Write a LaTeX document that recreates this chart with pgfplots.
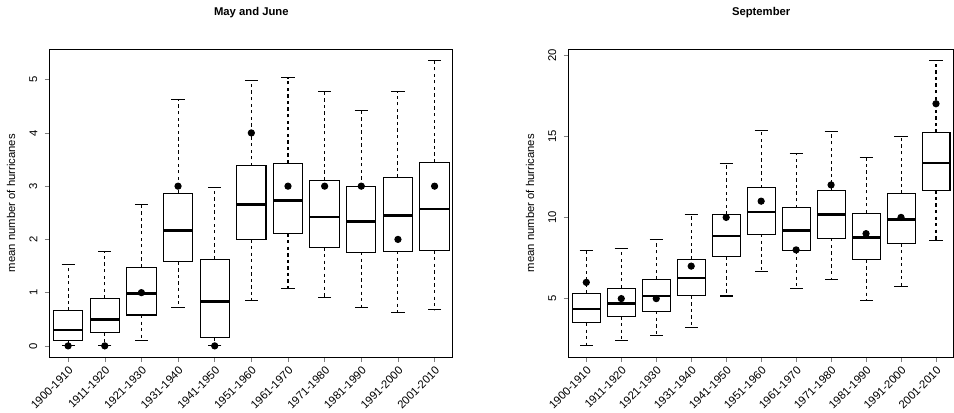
\documentclass[border=0pt]{standalone}
\usepackage{pgfplots}
\pgfplotsset{compat=1.18}
\usepgfplotslibrary{statistics}
\usepackage{fontspec}
\setmainfont{Liberation Sans}
\newcommand{\bx}[6]{\addplot[black,solid,line width=0.5pt,mark=none,forget plot,boxplot prepared={draw position=#1,lower whisker=#2,lower quartile=#3,median=#4,upper quartile=#5,upper whisker=#6,box extend=0.8,whisker extend=0}] coordinates {};}
\pgfplotsset{
 myax/.style={scale only axis,height=150pt,xmin=0.5,xmax=11.5,
  boxplot/draw direction=y,
  tick pos=left,tick align=outside,xtick={1,...,11},
  xticklabels={1900-1910,1911-1920,1921-1930,1931-1940,1941-1950,1951-1960,1961-1970,1971-1980,1981-1990,1991-2000,2001-2010},
  x tick label style={rotate=45,anchor=north east,inner sep=1pt,font=\fontsize{5.5}{6}\selectfont},
  y tick label style={rotate=90,anchor=south,font=\fontsize{5.5}{6}\selectfont},
  ylabel style={font=\fontsize{5.5}{6}\selectfont},
  title style={font=\fontsize{5.5}{6}\selectfont\bfseries,yshift=6pt},
  ylabel={mean number of hurricanes},
  major tick length=2.5pt,
  /pgf/number format/assume math mode=true,
  boxplot/every whisker/.style={draw=none},
  boxplot/every median/.style={line width=1.3pt},
  line width=0.5pt},
 wh/.style={draw=none,mark=none,forget plot,error bars/.cd,y dir=#1,y explicit,error mark=|,
  error bar style={black,line width=0.5pt,dash pattern=on 1.6pt off 1.6pt},
  error mark options={solid,black,line width=0.5pt,mark size=3.2pt}},
}
\begin{document}
\begin{tikzpicture}
\begin{axis}[myax,width=196.5pt,ymin=-0.21,ymax=5.57,ytick={0,...,5},title={May and June}]
\bx{1}{0}{0.1}{0.3}{0.66}{1.52}
\bx{2}{0}{0.25}{0.5}{0.89}{1.78}
\bx{3}{0.1}{0.58}{0.98}{1.48}{2.66}
\bx{4}{0.72}{1.58}{2.17}{2.87}{4.63}
\bx{5}{0}{0.15}{0.83}{1.62}{2.97}
\bx{6}{0.85}{2.0}{2.66}{3.38}{4.98}
\bx{7}{1.08}{2.11}{2.73}{3.43}{5.04}
\bx{8}{0.9}{1.85}{2.42}{3.11}{4.78}
\bx{9}{0.72}{1.76}{2.34}{3.0}{4.42}
\bx{10}{0.63}{1.78}{2.45}{3.16}{4.77}
\bx{11}{0.68}{1.79}{2.57}{3.45}{5.36}
\addplot[wh=plus] coordinates {(1,0.66)+-(0,0.86) (2,0.89)+-(0,0.89) (3,1.48)+-(0,1.18) (4,2.87)+-(0,1.76) (5,1.62)+-(0,1.35) (6,3.38)+-(0,1.60) (7,3.43)+-(0,1.61) (8,3.11)+-(0,1.67) (9,3.0)+-(0,1.42) (10,3.16)+-(0,1.61) (11,3.45)+-(0,1.91)};
\addplot[wh=minus] coordinates {(1,0.1)+-(0,0.1) (2,0.25)+-(0,0.25) (3,0.58)+-(0,0.48) (4,1.58)+-(0,0.86) (5,0.15)+-(0,0.15) (6,2.0)+-(0,1.15) (7,2.11)+-(0,1.03) (8,1.85)+-(0,0.95) (9,1.76)+-(0,1.04) (10,1.78)+-(0,1.15) (11,1.79)+-(0,1.11)};
\addplot[only marks,mark=*,mark size=1.5pt,black] coordinates {(1,0)(2,0)(3,1)(4,3)(5,0)(6,4)(7,3)(8,3)(9,3)(10,2)(11,3)};
\end{axis}
\begin{axis}[myax,xshift=253pt,width=187.5pt,ymin=1.4,ymax=20.35,ytick={5,10,15,20},title={September}]
\bx{1}{2.1}{3.5}{4.35}{5.31}{7.99}
\bx{2}{2.4}{3.9}{4.71}{5.65}{8.09}
\bx{3}{2.7}{4.23}{5.16}{6.17}{8.65}
\bx{4}{3.2}{5.18}{6.26}{7.43}{10.2}
\bx{5}{5.16}{7.59}{8.85}{10.18}{13.29}
\bx{6}{6.64}{8.97}{10.34}{11.82}{15.36}
\bx{7}{5.63}{7.97}{9.21}{10.59}{13.92}
\bx{8}{6.17}{8.72}{10.16}{11.67}{15.29}
\bx{9}{4.86}{7.39}{8.78}{10.27}{13.67}
\bx{10}{5.74}{8.4}{9.87}{11.46}{14.96}
\bx{11}{8.6}{11.67}{13.35}{15.22}{19.64}
\addplot[wh=plus] coordinates {(1,5.31)+-(0,2.68) (2,5.65)+-(0,2.44) (3,6.17)+-(0,2.48) (4,7.43)+-(0,2.77) (5,10.18)+-(0,3.11) (6,11.82)+-(0,3.54) (7,10.59)+-(0,3.33) (8,11.67)+-(0,3.62) (9,10.27)+-(0,3.40) (10,11.46)+-(0,3.50) (11,15.22)+-(0,4.42)};
\addplot[wh=minus] coordinates {(1,3.5)+-(0,1.4) (2,3.9)+-(0,1.5) (3,4.23)+-(0,1.53) (4,5.18)+-(0,1.98) (5,7.59)+-(0,2.43) (6,8.97)+-(0,2.33) (7,7.97)+-(0,2.34) (8,8.72)+-(0,2.55) (9,7.39)+-(0,2.53) (10,8.4)+-(0,2.66) (11,11.67)+-(0,3.07)};
\addplot[only marks,mark=*,mark size=1.5pt,black] coordinates {(1,6)(2,5)(3,5)(4,7)(5,10)(6,11)(7,8)(8,12)(9,9)(10,10)(11,17)};
\end{axis}
\end{tikzpicture}
\end{document}
